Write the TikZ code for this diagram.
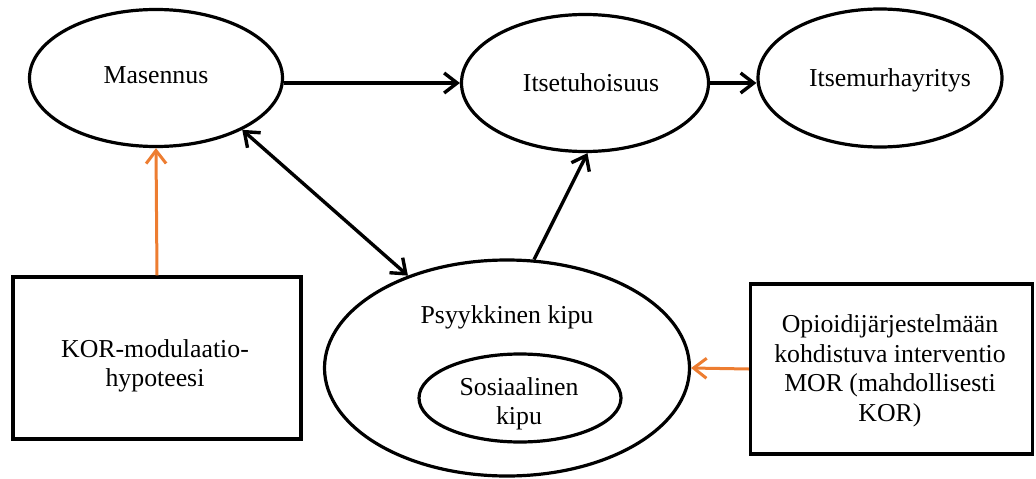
\documentclass[tikz,border=0pt]{standalone}
\usepackage{fontspec}
\setmainfont{Liberation Serif}
\usetikzlibrary{arrows.meta,shapes.geometric}
\definecolor{orng}{RGB}{237,125,49}
\begin{document}
\begin{tikzpicture}[x=1pt,y=-1pt,
  >={Straight Barb[length=13pt,width=20pt]},
  ell/.style={draw, ellipse, line width=3.2pt, inner sep=0pt},
  box/.style={draw, rectangle, line width=3.2pt, inner sep=0pt},
  lbl/.style={font=\fontsize{25.8}{29.5}\selectfont, align=center, inner sep=0pt},
  arr/.style={line width=3.4pt, ->},
  darr/.style={line width=3.4pt, <->},
  oarr/.style={line width=3pt, draw=orng, ->}]
\useasboundingbox (0,0) rectangle (1036,479);
% ellipses
\node[ell, minimum width=253pt, minimum height=137pt] (mas) at (156,78) {};
\node[lbl] (mast) at (156,75) {Masennus};
\node[ell, minimum width=247pt, minimum height=137pt] (its) at (585,83) {};
\node[lbl] (itst) at (591,83) {Itsetuhoisuus};
\node[ell, minimum width=244pt, minimum height=138pt] (ite) at (880,78) {};
\node[lbl] (itet) at (890,80) {Itsemurhayritys};
\node[ell, minimum width=365pt, minimum height=216pt] (psy) at (507,368) {};
\node[lbl] (psyt) at (507,317) {Psyykkinen kipu};
\node[ell, minimum width=202pt, minimum height=88pt] (sos) at (520,398) {};
\node[lbl] (sost) at (519,404) {Sosiaalinen\\kipu};
% boxes
\node[box, minimum width=288pt, minimum height=162pt] (kor) at (157,358) {};
\node[lbl] (kort) at (155,366) {KOR-modulaatio-\\hypoteesi};
\node[box, minimum width=282pt, minimum height=170pt] (opi) at (891.5,369) {};
\node[lbl] (opit) at (890,371) {Opioidijärjestelmään\\kohdistuva interventio\\MOR (mahdollisesti\\KOR)};
% connectors
\draw[arr] (mas.east |- its.west) -- (its.west);
\draw[arr] (its.east) -- (its.east -| ite.west);
\draw[darr] (mas.-31) -- (psy.137);
\draw[arr] (psy.76) -- (its.-88);
\draw[oarr] (kor.north) -- (mas.south);
\draw[oarr] (opi.west) -- (psy.east);
\end{tikzpicture}
\end{document}
